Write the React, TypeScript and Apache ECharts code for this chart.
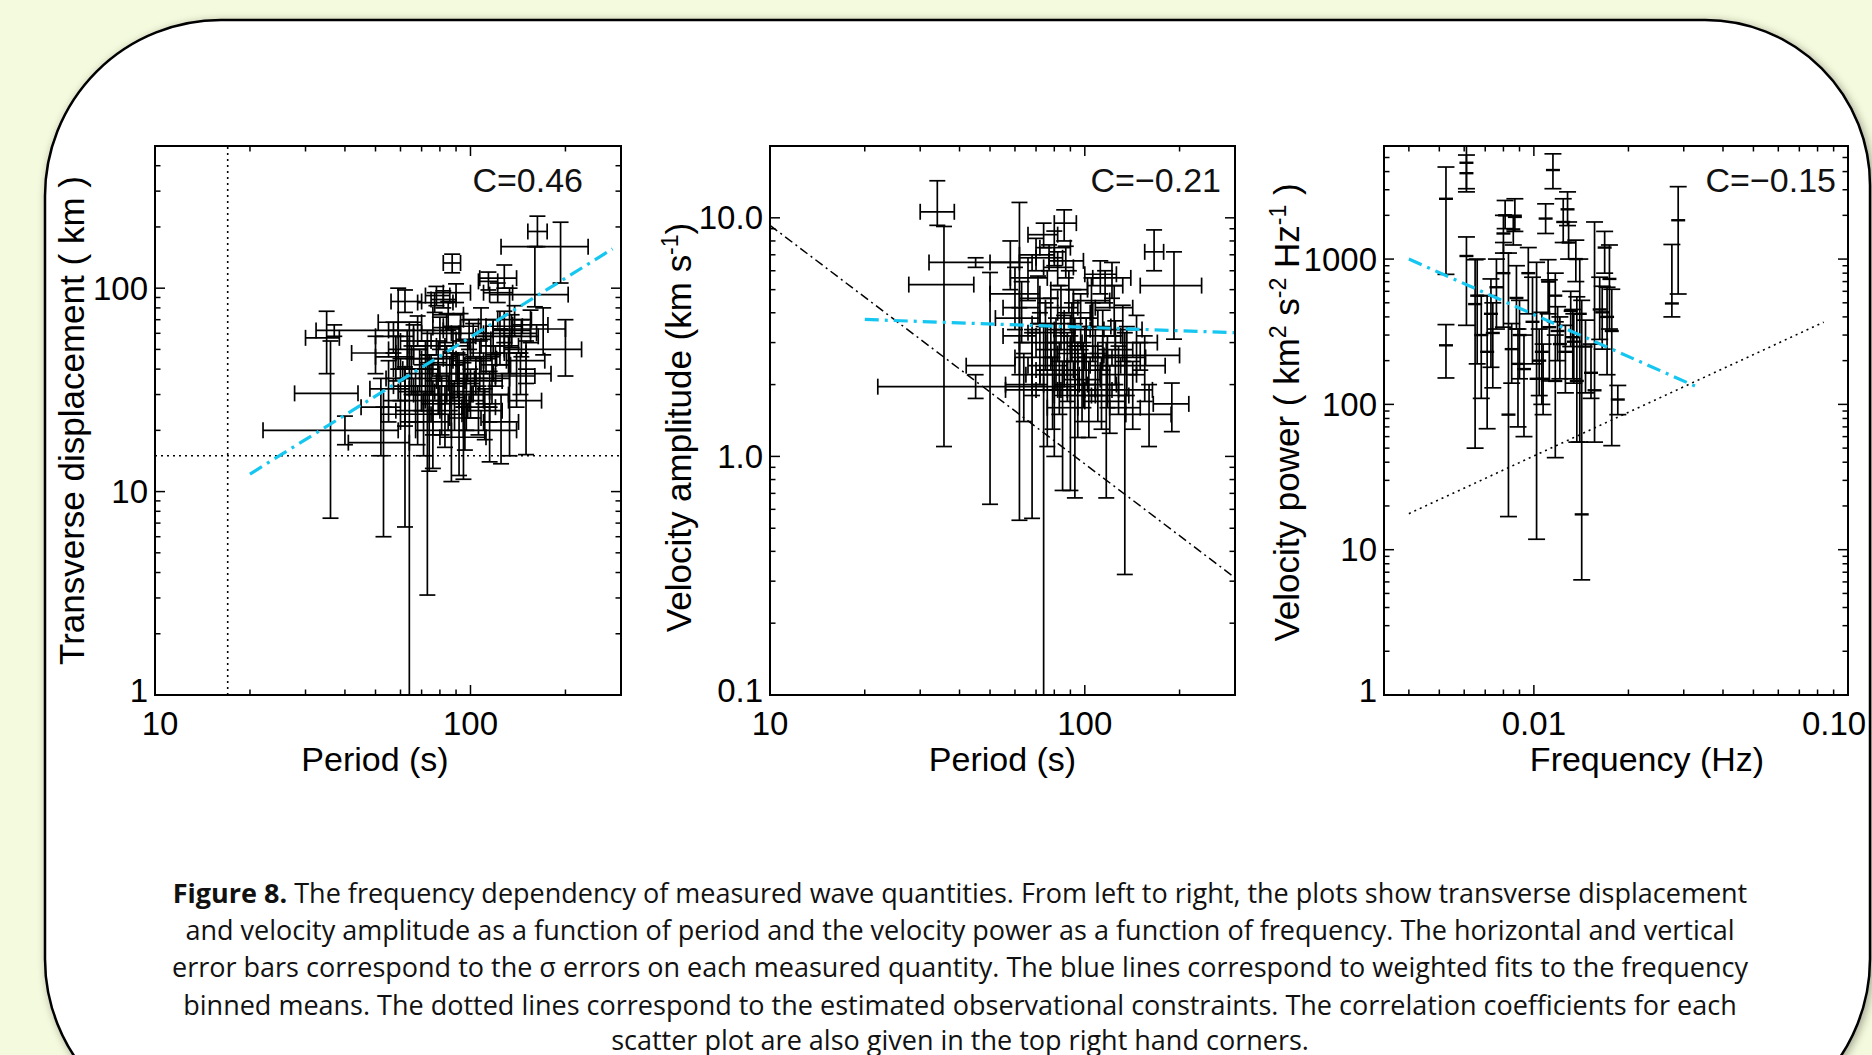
import React, { useEffect, useRef } from 'react';
import * as echarts from 'echarts';

// ---------- data ----------
// [period, periodLo, periodHi, displacement, dispLo, dispHi]
const DISP: number[][] = [
  [35, 30, 38.4, 57, 38, 77],
  [36, 27.7, 44, 30.4, 7.4, 55],
  [37, 32.4, 59, 62, 58, 66],
  [40, 22, 59, 20, 17, 23.5],
  [53, 41, 64, 17.4, 6.0, 26],
  [64, 57, 72, 33, 0.5, 68],
  [62, 52, 75, 24, 6.7, 41],
  [73, 62, 86, 30, 3.1, 47],
  [87.5, 82, 93, 133, 119, 147],
  [114, 106, 122, 108, 98, 120],
  [128, 107, 140, 112, 100, 130],
  [163, 152, 175, 190, 160, 226],
  [193, 125, 236, 160, 106, 211],
  [160, 115, 204, 93, 81, 160],
  [200, 128, 225, 50, 37, 70],
  [170, 118, 200, 63, 47, 80],
  [133, 110, 162, 60, 15, 100],
  [59, 51, 70, 68, 40, 100],
  [144, 118, 180, 38, 30, 48],
  [55, 48, 64, 32, 22, 44],
  [50, 42, 58, 48, 38, 58],
  [57, 50, 66, 58, 48, 68],
  [52, 45, 60, 26, 15, 36],
  [58, 50, 66, 46, 35, 58],
  [60, 54, 70, 36, 28, 45],
  [62, 53, 72, 28, 21, 36],
  [65, 57, 76, 40, 30, 52],
  [66, 60, 75, 55, 45, 66],
  [68, 58, 80, 25, 17, 33],
  [70, 62, 79, 33, 25, 42],
  [71, 60, 85, 22, 15, 30],
  [72, 64, 82, 45, 36, 55],
  [74, 66, 84, 30, 12.6, 47],
  [75, 62, 90, 38, 30, 47],
  [76, 70, 83, 27, 19, 35],
  [77, 68, 88, 85, 76, 95],
  [78, 72, 86, 92, 82, 102],
  [79, 66, 95, 33, 24, 43],
  [80, 70, 92, 60, 50, 72],
  [82, 75, 90, 88, 80, 97],
  [83, 74, 94, 24, 16.5, 33],
  [84, 74, 96, 42, 33, 52],
  [85, 76, 95, 74, 62, 86],
  [86, 78, 96, 35, 25, 46],
  [87, 80, 95, 30, 11.2, 48],
  [88, 78, 100, 52, 42, 63],
  [89, 80, 99, 27, 20, 35],
  [90, 82, 100, 95, 85, 105],
  [91, 80, 104, 38, 29, 48],
  [92, 84, 101, 30, 12, 47],
  [93, 82, 106, 65, 55, 75],
  [95, 85, 107, 34, 26, 43],
  [96, 86, 108, 23, 16, 30],
  [98, 88, 110, 44, 35, 54],
  [100, 88, 115, 31, 23, 40],
  [102, 90, 116, 56, 46, 67],
  [104, 92, 118, 38, 30, 46],
  [106, 94, 120, 26, 19, 33],
  [108, 95, 124, 70, 60, 80],
  [110, 97, 126, 35, 27, 44],
  [112, 100, 128, 48, 38, 58],
  [115, 102, 132, 30, 22, 39],
  [118, 104, 135, 58, 47, 70],
  [120, 108, 134, 42, 33, 52],
  [122, 110, 136, 95, 85, 106],
  [125, 110, 142, 22, 13.7, 30],
  [128, 112, 146, 65, 54, 77],
  [132, 116, 150, 48, 38, 58],
  [138, 122, 156, 70, 58, 82],
  [140, 120, 160, 37, 26, 48],
  [145, 128, 164, 58, 46, 70],
  [150, 130, 172, 44, 34, 55],
  [155, 136, 176, 66, 54, 78],
  [150, 132, 168, 28, 15.2, 40],
  [115, 95, 140, 20, 14, 26],
  [95, 80, 112, 18.5, 11.5, 26],
  [68, 55, 82, 62, 52, 73],
  [62, 56, 70, 86, 76, 98],
  [63, 55, 73, 50, 40, 62],
  [67, 59, 77, 31, 22, 40],
  [69, 61, 79, 40, 31, 50],
  [73, 64, 83, 52, 43, 62],
  [81, 71, 92, 28, 19, 37],
  [84, 76, 93, 64, 54, 75],
  [97, 86, 110, 28, 20, 36],
  [99, 87, 112, 60, 50, 70],
  [107, 95, 121, 45, 36, 55],
  [111, 98, 126, 25, 18, 32],
  [117, 103, 133, 36, 27, 46],
  [124, 108, 142, 52, 42, 63],
  [135, 118, 155, 62, 51, 74],
  [79, 70, 90, 45, 36, 55],
  [76, 67, 87, 20, 13, 28],
];

// [period, periodLo, periodHi, velocity, velLo, velHi]
const VAMP: number[][] = [
  [34, 30, 38.5, 10.6, 9.3, 14.3],
  [35.7, 27.6, 44.4, 5.25, 1.1, 9.2],
  [45, 32, 62, 6.5, 6.2, 6.8],
  [45, 22, 93, 1.96, 1.75, 2.2],
  [74, 65, 85, 2.2, 0.08, 3.5],
  [134, 120, 150, 1.6, 0.32, 3.3],
  [50, 42, 60, 2.4, 0.63, 5.9],
  [62, 52, 72, 3.8, 0.54, 11.6],
  [86, 80, 94, 9.5, 8.0, 10.8],
  [166, 155, 178, 7.2, 6.0, 8.9],
  [192, 150, 235, 5.2, 3.1, 7.2],
  [189, 165, 214, 1.66, 1.27, 2.03],
  [93, 80, 108, 1.8, 0.67, 2.9],
  [117, 100, 135, 1.7, 0.67, 3.0],
  [150, 115, 200, 2.65, 2.3, 3.0],
  [68, 56, 82, 1.9, 0.55, 3.3],
  [58, 50, 68, 6.5, 5.0, 8.0],
  [60, 50, 72, 4.8, 3.4, 6.2],
  [62, 55, 70, 3.2, 2.2, 4.2],
  [64, 56, 74, 2.0, 1.4, 2.7],
  [66, 58, 76, 5.6, 4.5, 6.8],
  [68, 60, 78, 2.6, 1.8, 3.4],
  [70, 62, 80, 7.0, 6.0, 8.2],
  [72, 62, 84, 3.0, 2.0, 4.0],
  [74, 66, 82, 8.5, 7.5, 9.5],
  [76, 66, 88, 2.4, 1.1, 3.6],
  [77, 70, 85, 6.8, 6.0, 7.7],
  [78, 68, 90, 3.6, 2.6, 4.6],
  [79, 70, 88, 1.9, 1.3, 2.6],
  [80, 72, 90, 7.5, 6.3, 8.8],
  [81, 70, 95, 2.8, 1.9, 3.8],
  [82, 74, 92, 6.2, 5.2, 7.2],
  [83, 72, 96, 2.2, 1.5, 3.0],
  [84, 75, 95, 4.2, 3.2, 5.2],
  [85, 76, 95, 1.6, 0.72, 2.5],
  [86, 76, 98, 3.0, 2.2, 3.9],
  [88, 78, 100, 2.5, 1.7, 3.3],
  [89, 78, 102, 5.0, 4.0, 6.0],
  [90, 80, 102, 2.0, 0.72, 3.2],
  [91, 80, 104, 3.4, 2.5, 4.4],
  [93, 82, 106, 2.7, 1.9, 3.6],
  [95, 84, 108, 1.9, 1.2, 2.6],
  [97, 86, 110, 3.8, 2.8, 4.8],
  [99, 88, 112, 2.3, 1.6, 3.0],
  [101, 90, 114, 2.9, 2.0, 3.8],
  [103, 90, 118, 1.8, 1.2, 2.5],
  [105, 92, 120, 4.5, 3.5, 5.6],
  [108, 95, 122, 2.6, 1.8, 3.4],
  [110, 96, 126, 2.0, 1.4, 2.7],
  [112, 100, 126, 5.8, 4.8, 6.6],
  [114, 100, 130, 3.2, 2.3, 4.1],
  [116, 102, 132, 5.2, 4.4, 6.0],
  [118, 104, 134, 2.4, 1.6, 3.2],
  [120, 105, 138, 1.8, 1.25, 2.4],
  [122, 106, 140, 5.6, 4.6, 6.5],
  [125, 110, 142, 2.8, 2.0, 3.7],
  [128, 112, 146, 2.2, 1.5, 2.9],
  [132, 115, 152, 3.4, 2.5, 4.3],
  [136, 118, 156, 2.6, 1.8, 3.5],
  [142, 122, 164, 1.9, 1.3, 2.5],
  [146, 125, 170, 3.0, 2.2, 3.9],
  [155, 130, 180, 2.4, 1.7, 3.2],
  [160, 135, 188, 1.5, 1.1, 2.0],
  [63, 55, 72, 4.2, 3.0, 5.4],
  [71, 62, 82, 4.6, 3.6, 5.7],
  [75, 66, 86, 3.3, 2.3, 4.4],
  [87, 77, 99, 6.6, 5.6, 7.6],
  [92, 82, 104, 4.0, 3.0, 5.0],
  [98, 86, 112, 2.1, 1.4, 2.9],
  [106, 93, 121, 3.5, 2.6, 4.4],
  [113, 100, 128, 1.9, 1.3, 2.6],
  [124, 108, 142, 4.2, 3.2, 5.2],
  [80, 70, 92, 2.3, 1.0, 3.4],
];

// [frequency, power, powerLo, powerHi]
const VPOW: number[][] = [
  [0.00525, 2600, 785, 4300],
  [0.00525, 255, 152, 354],
  [0.0061, 4600, 3050, 6500],
  [0.0061, 3900, 2900, 5200],
  [0.0061, 1050, 350, 1420],
  [0.0065, 490, 50, 990],
  [0.0066, 560, 190, 1000],
  [0.0068, 300, 110, 560],
  [0.0071, 230, 68, 560],
  [0.0073, 420, 180, 730],
  [0.0074, 310, 130, 500],
  [0.0076, 640, 330, 1000],
  [0.008, 800, 340, 1300],
  [0.0081, 2000, 1620, 2530],
  [0.008, 1500, 1100, 2000],
  [0.0083, 85, 16.9, 1100],
  [0.0085, 240, 140, 360],
  [0.0087, 1950, 1550, 2600],
  [0.0086, 1600, 1250, 2000],
  [0.0088, 540, 330, 900],
  [0.0089, 190, 70, 330],
  [0.009, 300, 150, 520],
  [0.0093, 175, 60, 300],
  [0.0096, 800, 420, 1200],
  [0.0099, 370, 190, 750],
  [0.0102, 150, 11.8, 950],
  [0.0104, 200, 115, 330],
  [0.0106, 230, 100, 430],
  [0.0107, 150, 85, 260],
  [0.0109, 1900, 1500, 2400],
  [0.0111, 700, 420, 990],
  [0.0112, 340, 145, 720],
  [0.0115, 4100, 3050, 5300],
  [0.0117, 145, 43, 300],
  [0.0117, 560, 370, 800],
  [0.0119, 320, 200, 470],
  [0.0121, 260, 150, 400],
  [0.0124, 1800, 1300, 2600],
  [0.0126, 230, 120, 350],
  [0.0128, 2200, 1700, 2900],
  [0.0129, 1300, 1000, 1800],
  [0.0131, 440, 250, 600],
  [0.0133, 290, 150, 450],
  [0.0134, 270, 140, 420],
  [0.0136, 1000, 700, 1350],
  [0.0137, 145, 55, 550],
  [0.014, 420, 55, 1000],
  [0.0142, 17.5, 6.2, 520],
  [0.0146, 250, 120, 380],
  [0.0152, 165, 110, 260],
  [0.0156, 125, 55, 1800],
  [0.0162, 450, 280, 750],
  [0.0165, 430, 240, 650],
  [0.0168, 1200, 800, 1550],
  [0.0171, 400, 160, 640],
  [0.0174, 730, 330, 1250],
  [0.0177, 320, 52, 620],
  [0.0185, 108, 85, 135],
  [0.0275, 495, 400, 1260],
  [0.0288, 1850, 575, 3150],
];

// fitted (blue) and constraint (dotted) lines
const FIT_DISP = [[20, 12.2], [282, 156]];
const LIM_DISP_H = [[10, 15], [300, 15]];
const LIM_DISP_V = [[17, 1], [17, 500]];
const FIT_VAMP = [[20, 3.75], [300, 3.3]];
const LIM_VAMP = [[10, 9.3], [300, 0.31]];
const FIT_VPOW = [[0.004, 1000], [0.0338, 129]];
const LIM_VPOW = [[0.004, 17.7], [0.0837, 368]];

const CORR = ['C=0.46', 'C=\u22120.21', 'C=\u22120.15'];

const X_RANGES = [[10, 300], [10, 300], [1 / 300, 0.1]];
const Y_RANGES = [[1, 500], [0.1, 20], [1, 6000]];
const X_TICK_LABELS: [number, string][][] = [
  [[10, '{l|10}'], [100, '100']],
  [[10, '10'], [100, '100']],
  [[0.01, '0.01'], [0.1, '{r|0.10}']],
];
const Y_TICK_LABELS: [number, string][][] = [
  [[1, '{m|1}'], [10, '10'], [100, '100']],
  [[0.1, '{m|0.1}'], [1, '1.0'], [10, '10.0']],
  [[1, '{m|1}'], [10, '10'], [100, '100'], [1000, '1000']],
];
const X_NAMES = ['Period (s)', 'Period (s)', 'Frequency (Hz)'];
const Y_NAMES = [
  'Transverse displacement ( km )',
  'Velocity amplitude (km s{sup|-1})',
  'Velocity power ( km{sup|2} s{sup|-2} Hz{sup|-1} )',
];

const CAPTION = [
  '{b|Figure 8.} The frequency dependency of measured wave quantities. From left to right, the plots show transverse displacement',
  'and velocity amplitude as a function of period and the velocity power as a function of frequency. The horizontal and vertical',
  'error bars correspond to the \u03c3 errors on each measured quantity. The blue lines correspond to weighted fits to the frequency',
  'binned means. The dotted lines correspond to the estimated observational constraints. The correlation coefficients for each',
  'scatter plot are also given in the top right hand corners.',
];

// ---------- layout / style ----------
const FONT = "'Liberation Sans', Arial, Helvetica, sans-serif";
const CAP_FONT = "'Open Sans', Lato, sans-serif";
const GRIDS = [
  { left: 155, top: 146, width: 466, height: 549 },
  { left: 770, top: 146, width: 465, height: 549 },
  { left: 1384, top: 146, width: 464, height: 549 },
];
const BLUE = '#14c6f0';
const LS = { stroke: '#000', lineWidth: 1.7 };

function seg(x1: number, y1: number, x2: number, y2: number, lw?: number) {
  return { type: 'line', shape: { x1, y1, x2, y2 }, style: lw ? { stroke: '#000', lineWidth: lw } : LS };
}

function logTicks(min: number, max: number) {
  const out: number[][] = [];
  for (let k = Math.floor(Math.log10(min)); k <= Math.ceil(Math.log10(max)); k++) {
    for (let m = 1; m <= 9; m++) {
      const v = m * Math.pow(10, k);
      if (v > min * 1.001 && v < max * 0.999) out.push([v, m === 1 ? 1 : 0]);
    }
  }
  return out;
}

function labelFor(list: [number, string][]) {
  return (v: number) => {
    for (const [val, s] of list) if (Math.abs(v - val) / val < 1e-4) return s;
    return '';
  };
}

function renderErr6(params: any, api: any) {
  const x = api.value(0), xl = api.value(1), xh = api.value(2);
  const y = api.value(3), yl = api.value(4), yh = api.value(5);
  const c = api.coord([x, y]);
  const l = api.coord([xl, y])[0];
  const r = api.coord([xh, y])[0];
  const b = api.coord([x, yl])[1];
  const t = api.coord([x, yh])[1];
  const k = 8;
  return {
    type: 'group',
    children: [
      seg(l, c[1], r, c[1]),
      seg(l, c[1] - k, l, c[1] + k),
      seg(r, c[1] - k, r, c[1] + k),
      seg(c[0], t, c[0], b),
      seg(c[0] - k, t, c[0] + k, t),
      seg(c[0] - k, b, c[0] + k, b),
    ],
  };
}

function renderErr4(params: any, api: any) {
  const x = api.value(0), y = api.value(1), yl = api.value(2), yh = api.value(3);
  const c = api.coord([x, y]);
  const b = api.coord([x, yl])[1];
  const t = api.coord([x, yh])[1];
  const k = 8.5;
  const h = 7;
  return {
    type: 'group',
    children: [
      seg(c[0] - h, c[1], c[0] + h, c[1], 2.4),
      seg(c[0], t, c[0], b),
      seg(c[0] - k, t, c[0] + k, t),
      seg(c[0] - k, b, c[0] + k, b),
    ],
  };
}

function renderXTick(params: any, api: any) {
  const v = api.value(0);
  const major = api.value(2) === 1;
  const px = api.coord([v, api.value(1)])[0];
  const cs = params.coordSys;
  const L = major ? 10 : 5.5;
  return {
    type: 'group',
    children: [seg(px, cs.y + cs.height, px, cs.y + cs.height - L, 1.5), seg(px, cs.y, px, cs.y + L, 1.5)],
  };
}

function renderYTick(params: any, api: any) {
  const v = api.value(1);
  const major = api.value(2) === 1;
  const py = api.coord([api.value(0), v])[1];
  const cs = params.coordSys;
  const L = major ? 10 : 5.5;
  return {
    type: 'group',
    children: [seg(cs.x, py, cs.x + L, py, 1.5), seg(cs.x + cs.width, py, cs.x + cs.width - L, py, 1.5)],
  };
}

export default function App() {
  const ref = useRef<HTMLDivElement>(null);
  useEffect(() => {
    if (!ref.current) return;
    const chart = echarts.init(ref.current, undefined, { renderer: 'svg' });

    const supRich = {
      sup: { fontSize: 23, fontFamily: FONT, color: '#000', verticalAlign: 'top', lineHeight: 40 },
    };
    const yNameGaps = [64, 72, 78];
    const yNamePad = [[0, 0, 0, 0], [0, 14, 0, 0], [0, 0, 0, 16]];
    const xNamePad = [[0, 26, 0, 0], [0, 0, 0, 0], [0, 0, 0, 62]];

    const xAxes = GRIDS.map((_, i) => ({
      type: 'log',
      logBase: 10,
      gridIndex: i,
      min: X_RANGES[i][0],
      max: X_RANGES[i][1],
      axisLine: { show: false },
      axisTick: { show: false },
      splitLine: { show: false },
      minorTick: { show: false },
      axisLabel: {
        formatter: labelFor(X_TICK_LABELS[i]),
        fontSize: 33,
        fontFamily: FONT,
        color: '#000',
        margin: 12,
        showMinLabel: true,
        showMaxLabel: true,
        rich: {
          r: { fontSize: 33, fontFamily: FONT, color: '#000', padding: [0, 28, 0, 0] },
          l: { fontSize: 33, fontFamily: FONT, color: '#000', padding: [0, 0, 0, 10] },
        },
      },
      name: X_NAMES[i],
      nameLocation: 'middle',
      nameGap: 47,
      nameMoveOverlap: false,
      nameTextStyle: { fontSize: 34, fontFamily: FONT, color: '#000', padding: xNamePad[i] },
    }));

    const yAxes = GRIDS.map((_, i) => ({
      type: 'log',
      logBase: 10,
      gridIndex: i,
      min: Y_RANGES[i][0],
      max: Y_RANGES[i][1],
      axisLine: { show: false },
      axisTick: { show: false },
      splitLine: { show: false },
      minorTick: { show: false },
      axisLabel: {
        formatter: labelFor(Y_TICK_LABELS[i]),
        fontSize: 33,
        fontFamily: FONT,
        color: '#000',
        margin: 7,
        rich: { m: { fontSize: 33, fontFamily: FONT, color: '#000', padding: [0, 0, 10, 0] } },
      },
      name: Y_NAMES[i],
      nameLocation: 'middle',
      nameRotate: 90,
      nameGap: yNameGaps[i],
      nameMoveOverlap: false,
      nameTextStyle: {
        fontSize: 35,
        fontFamily: FONT,
        color: '#000',
        lineHeight: 40,
        padding: yNamePad[i],
        rich: supRich,
      },
    }));

    const series: any[] = [];
    const errData = [DISP, VAMP];
    errData.forEach((d, i) => {
      series.push({
        type: 'custom',
        xAxisIndex: i,
        yAxisIndex: i,
        data: d,
        encode: { x: 0, y: 3 },
        renderItem: renderErr6,
        clip: true,
        silent: true,
        z: 3,
      });
    });
    series.push({
      type: 'custom',
      xAxisIndex: 2,
      yAxisIndex: 2,
      data: VPOW,
      encode: { x: 0, y: 1 },
      renderItem: renderErr4,
      clip: true,
      silent: true,
      z: 3,
    });

    GRIDS.forEach((_, i) => {
      series.push({
        type: 'custom',
        xAxisIndex: i,
        yAxisIndex: i,
        data: logTicks(X_RANGES[i][0], X_RANGES[i][1]).map((t) => [t[0], Y_RANGES[i][0], t[1]]),
        encode: { x: 0, y: 1 },
        renderItem: renderXTick,
        silent: true,
        z: 4,
      });
      series.push({
        type: 'custom',
        xAxisIndex: i,
        yAxisIndex: i,
        data: logTicks(Y_RANGES[i][0], Y_RANGES[i][1]).map((t) => [X_RANGES[i][0], t[0], t[1]]),
        encode: { x: 0, y: 1 },
        renderItem: renderYTick,
        silent: true,
        z: 4,
      });
    });

    const line = (i: number, data: number[][], color: string, width: number, type: any, z = 5) => ({
      type: 'line',
      xAxisIndex: i,
      yAxisIndex: i,
      data,
      symbol: 'none',
      silent: true,
      clip: true,
      z,
      lineStyle: { color, width, type },
    });
    series.push(line(0, LIM_DISP_H, '#000', 1.6, [2, 4], 2));
    series.push(line(0, LIM_DISP_V, '#000', 1.6, [2, 4], 2));
    series.push(line(0, FIT_DISP, BLUE, 3.2, [14, 6, 3, 6]));
    series.push(line(1, LIM_VAMP, '#000', 1.5, [9, 4, 2, 4], 2));
    series.push(line(1, FIT_VAMP, BLUE, 3.2, [14, 6, 3, 6]));
    series.push(line(2, LIM_VPOW, '#000', 1.6, [2, 4], 2));
    series.push(line(2, FIT_VPOW, BLUE, 3.2, [14, 6, 3, 6]));

    const graphics: any[] = [
      {
        type: 'rect',
        z: -10,
        silent: true,
        shape: { x: 45, y: 20, width: 1825, height: 1115, r: [176, 165, 176, 176] },
        style: {
          fill: '#fff',
          stroke: '#000',
          lineWidth: 2.5,
          shadowBlur: 8,
          shadowColor: 'rgba(0,0,0,0.35)',
          shadowOffsetX: 2,
          shadowOffsetY: 2,
        },
      },
    ];
    const cRight = [583, 1221, 1836];
    CORR.forEach((c, i) => {
      graphics.push({
        type: 'text',
        z: 100,
        silent: true,
        x: cRight[i],
        y: 180,
        style: {
          text: c,
          fontSize: 34,
          fontFamily: FONT,
          fill: '#111',
          textAlign: 'right',
          align: 'right',
          textVerticalAlign: 'middle',
          verticalAlign: 'middle',
        },
      });
    });
    const capY = [892, 929, 966, 1004, 1039];
    CAPTION.forEach((t, i) => {
      graphics.push({
        type: 'text',
        z: 100,
        silent: true,
        x: 960,
        y: capY[i],
        style: {
          text: t,
          fontSize: 27,
          lineHeight: 28,
          fontFamily: CAP_FONT,
          fill: '#111',
          textAlign: 'center',
          align: 'center',
          textVerticalAlign: 'middle',
          verticalAlign: 'middle',
          rich: {
            b: { fontSize: 27, lineHeight: 28, fontFamily: CAP_FONT, fontWeight: 'bold', fill: '#111', color: '#111' },
          },
        },
      });
    });

    chart.setOption({
      animation: false,
      backgroundColor: '#F4FADD',
      grid: GRIDS.map((g) => ({
        ...g,
        show: true,
        borderColor: '#000',
        borderWidth: 2,
        backgroundColor: 'transparent',
        containLabel: false,
        outerBoundsMode: 'none',
        z: 6,
      })),
      xAxis: xAxes,
      yAxis: yAxes,
      series,
      graphic: graphics,
    });
    return () => chart.dispose();
  }, []);
  return <div ref={ref} style={{ position: 'fixed', left: 0, top: 0, width: 1872, height: 1055 }} />;
}
